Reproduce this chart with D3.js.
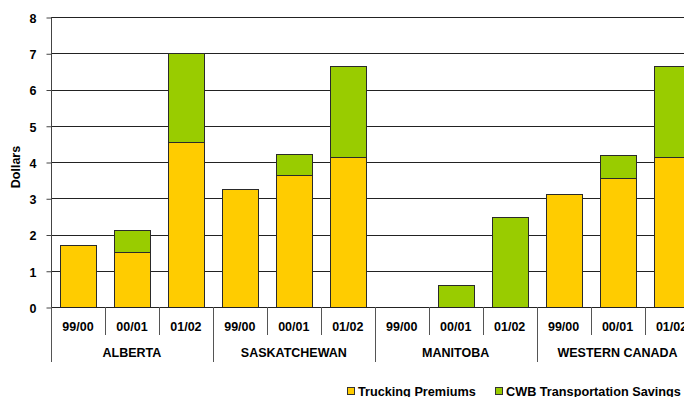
<!DOCTYPE html>
<html>
<head>
<meta charset="utf-8">
<script src="https://cdn.jsdelivr.net/npm/d3@7/dist/d3.min.js"></script>
<style>
  html, body { margin: 0; padding: 0; background: #fff; }
  svg { display: block; }
  text { font-family: "Liberation Sans", Arial, sans-serif; font-weight: bold; fill: #000; }
</style>
</head>
<body>
<svg id="chart" width="684" height="397"></svg>
<script>
const regions = ["ALBERTA", "SASKATCHEWAN", "MANITOBA", "WESTERN CANADA"];
const years = ["99/00", "00/01", "01/02"];
const trucking = [1.70, 1.53, 4.54, 3.25, 3.63, 4.14, 0, 0, 0, 3.13, 3.57, 4.14];
const cwb = [0, 0.60, 2.46, 0, 0.60, 2.51, 0, 0.62, 2.47, 0, 0.61, 2.51];
const yTicks = [0, 1, 2, 3, 4, 5, 6, 7, 8];
const seriesNames = ["Trucking Premiums", "CWB Transportation Savings"];
const colors = ["#FFCC00", "#99CC00"];

const svg = d3.select("#chart");
const mLeft = 51, mRight = 698.5, mTop = 17, mBottom = 307;

const cats = [];
regions.forEach((r, i) => years.forEach((yr, j) => cats.push({ region: r, year: yr, idx: i * 3 + j })));

const x = d3.scaleBand().domain(cats.map(d => d.idx)).range([mLeft, mRight])
  .paddingInner(1 / 3).paddingOuter(1 / 6);
const y = d3.scaleLinear().domain([0, 8]).range([mBottom, mTop]);

// gridlines
svg.append("g").selectAll("line").data(yTicks.filter(t => t > 0)).join("line")
  .attr("x1", mLeft).attr("x2", mRight)
  .attr("y1", d => Math.round(y(d)) + 0.5).attr("y2", d => Math.round(y(d)) + 0.5)
  .attr("stroke", "#222").attr("stroke-width", 1);

// y axis
const yAxis = d3.axisLeft(y).tickValues(yTicks).tickSize(5).tickPadding(10);
const ya = svg.append("g").attr("transform", `translate(${mLeft + 0.5},0.5)`).call(yAxis);
ya.select(".domain").attr("stroke", "#444").attr("d", `M0,${mBottom}V${mTop}`);
ya.selectAll(".tick line").attr("stroke", "#444");
ya.selectAll(".tick text").attr("font-size", "12.5px").attr("font-weight", "bold")
  .attr("font-family", "Liberation Sans, Arial, sans-serif").attr("fill", "#000")
  .attr("dy", "0.38em");

svg.append("text").attr("transform", `translate(20,${(mTop + mBottom) / 2 + 5}) rotate(-90)`)
  .attr("text-anchor", "middle").attr("font-size", "12.5px").text("Dollars");

// stacked bars
const stackData = cats.map(c => ({ idx: c.idx, t: trucking[c.idx], c: cwb[c.idx] }));
const stack = d3.stack().keys(["t", "c"])(stackData);
svg.append("g").selectAll("g").data(stack).join("g")
  .attr("fill", (d, i) => colors[i])
  .selectAll("rect").data(d => d.filter(s => s[1] - s[0] > 0)).join("rect")
  .attr("x", d => Math.round(x(d.data.idx)) + 0.5)
  .attr("width", Math.round(x.bandwidth()))
  .attr("y", d => Math.round(y(d[1])) + 0.5)
  .attr("height", d => Math.round(y(d[0])) - Math.round(y(d[1])))
  .attr("stroke", "#2a2a2a").attr("stroke-width", 1);

// x axis baseline
svg.append("line").attr("x1", mLeft).attr("x2", mRight)
  .attr("y1", mBottom + 0.5).attr("y2", mBottom + 0.5).attr("stroke", "#222");

// category separators
const step = x.step();
const sepG = svg.append("g");
d3.range(0, cats.length + 1).forEach(i => {
  const xp = Math.round(mLeft + i * step) + 0.5;
  const isGroup = i % 3 === 0;
  sepG.append("line").attr("x1", xp).attr("x2", xp)
    .attr("y1", mBottom).attr("y2", isGroup ? 362 : 335)
    .attr("stroke", "#555").attr("stroke-width", 1);
});

// category labels
svg.append("g").selectAll("text").data(cats).join("text")
  .attr("x", d => x(d.idx) + x.bandwidth() / 2).attr("y", 330.5)
  .attr("text-anchor", "middle").attr("font-size", "12.5px").text(d => d.year);

// region labels
svg.append("g").selectAll("text").data(regions).join("text")
  .attr("x", (d, i) => mLeft + (i * 3 + 1.5) * step).attr("y", 357)
  .attr("text-anchor", "middle").attr("font-size", "12.5px").text(d => d);

// legend
const legendX = [347, 495];
const lg = svg.append("g").selectAll("g").data(seriesNames).join("g")
  .attr("transform", (d, i) => `translate(${legendX[i]},0)`);
lg.append("rect").attr("x", 0.5).attr("y", 387.5).attr("width", 7).attr("height", 7)
  .attr("fill", (d, i) => colors[i]).attr("stroke", "#333");
lg.append("text").attr("x", 11).attr("y", 396).attr("font-size", "12.7px").text(d => d);
</script>
</body>
</html>
